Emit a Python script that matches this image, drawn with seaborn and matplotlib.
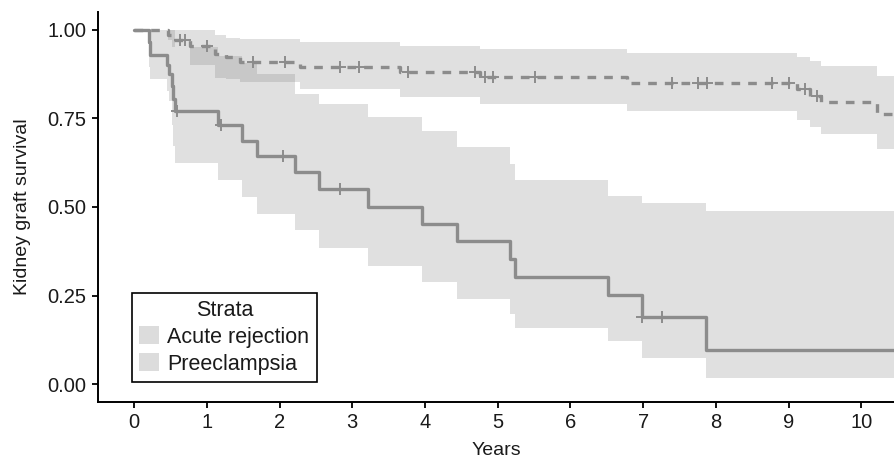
import numpy as np
import pandas as pd
import matplotlib
matplotlib.use("Agg")
import matplotlib.pyplot as plt
from matplotlib.patches import Patch
import seaborn as sns

# ---------------- data ----------------
strata = ["Acute rejection", "Preeclampsia"]

ar_time  = [0.00, 0.20, 0.22, 0.45, 0.48, 0.52, 0.54, 0.56, 1.15, 1.49, 1.69, 2.21, 2.54, 3.22, 3.96, 4.44, 5.17, 5.24, 6.52, 6.98, 7.86]
ar_surv  = [1.000, 0.965, 0.930, 0.900, 0.875, 0.840, 0.805, 0.770, 0.730, 0.687, 0.645, 0.598, 0.551, 0.501, 0.453, 0.403, 0.354, 0.302, 0.253, 0.190, 0.096]
ar_lower = [1.000, 0.894, 0.860, 0.828, 0.800, 0.730, 0.673, 0.623, 0.576, 0.528, 0.481, 0.434, 0.385, 0.335, 0.288, 0.241, 0.199, 0.159, 0.121, 0.074, 0.018]
ar_upper = [1.000, 1.000, 1.000, 1.000, 1.000, 1.000, 1.000, 0.950, 0.925, 0.905, 0.875, 0.820, 0.790, 0.753, 0.713, 0.669, 0.621, 0.575, 0.530, 0.510, 0.490]
ar_censor = [0.59, 1.20, 2.05, 2.83, 6.98, 7.26]

pe_time  = [0.00, 0.47, 0.52, 0.77, 1.11, 1.27, 1.46, 2.28, 3.66, 4.76, 6.78, 9.11, 9.30, 9.44, 10.21]
pe_surv  = [1.000, 0.986, 0.972, 0.955, 0.932, 0.922, 0.908, 0.894, 0.880, 0.866, 0.850, 0.833, 0.814, 0.795, 0.762]
pe_lower = [1.000, 0.970, 0.950, 0.900, 0.865, 0.860, 0.852, 0.834, 0.810, 0.790, 0.770, 0.745, 0.725, 0.706, 0.664]
pe_upper = [1.000, 1.000, 1.000, 1.000, 0.985, 0.978, 0.974, 0.965, 0.955, 0.945, 0.934, 0.922, 0.913, 0.899, 0.870]
pe_censor = [0.63, 0.70, 1.00, 1.64, 2.08, 2.83, 3.09, 3.77, 4.69, 4.83, 4.94, 5.52,
             7.40, 7.76, 7.88, 8.77, 9.00, 9.23, 9.39]

x_ticks = [0, 1, 2, 3, 4, 5, 6, 7, 8, 9, 10]
y_ticks = [0.00, 0.25, 0.50, 0.75, 1.00]
y_tick_labels = ["0.00", "0.25", "0.50", "0.75", "1.00"]

X_MAX = 10.45

# ---------------- style ----------------
sns.set_theme(style="white")
plt.rcParams["font.family"] = ["Liberation Sans", "DejaVu Sans"]
plt.rcParams["axes.linewidth"] = 1.4

LINE_C = "#8c8c8c"
BAND_C = "#808080"
BAND_A = 0.245
TXT_C = "#1a1a1a"

fig = plt.figure(figsize=(8.94, 4.62), dpi=100)
ax = fig.add_axes([97.7 / 894, 60 / 462, (894 - 97.7) / 894, 390 / 462])


def extend(t, v):
    return np.append(t, X_MAX), np.append(v, v[-1])


def step_at(t, v, q):
    idx = np.searchsorted(np.asarray(t), np.asarray(q), side="right") - 1
    return np.asarray(v)[idx]


groups = [
    (strata[0], ar_time, ar_surv, ar_lower, ar_upper, ar_censor, "-"),
    (strata[1], pe_time, pe_surv, pe_lower, pe_upper, pe_censor, (0, (2.6, 2.4))),
]

for name, t, s, lo, up, cens, ls in groups:
    te, lo_e = extend(t, lo)
    _, up_e = extend(t, up)
    ax.fill_between(te, lo_e, up_e, step="post", color=BAND_C, alpha=BAND_A,
                    linewidth=0)

for name, t, s, lo, up, cens, ls in groups:
    te, se = extend(t, s)
    df = pd.DataFrame({"time": te, "surv": se})
    sns.lineplot(data=df, x="time", y="surv", ax=ax, color=LINE_C,
                 drawstyle="steps-post", estimator=None, sort=False,
                 linewidth=2.4, linestyle=ls, legend=False)
    cdf = pd.DataFrame({"time": cens, "surv": step_at(t, s, cens)})
    sns.scatterplot(data=cdf, x="time", y="surv", ax=ax, marker="+",
                    s=70, color=LINE_C, linewidth=1.4, legend=False, zorder=3)

ax.set_xlim(-0.5, X_MAX)
ax.set_ylim(-0.05, 1.05)
ax.set_xticks(x_ticks)
ax.set_xticklabels([str(v) for v in x_ticks])
ax.set_yticks(y_ticks)
ax.set_yticklabels(y_tick_labels)
ax.tick_params(axis="both", which="major", direction="out", length=4,
               width=1.3, color="black", labelsize=14.5, labelcolor=TXT_C,
               bottom=True, left=True, pad=4)
for side in ["top", "right"]:
    ax.spines[side].set_visible(False)
for side in ["left", "bottom"]:
    ax.spines[side].set_color("black")
    ax.spines[side].set_linewidth(1.4)

ax.set_xlabel("Years", fontsize=14, color=TXT_C, labelpad=7)
ax.set_ylabel("Kidney graft survival", fontsize=14, color=TXT_C, labelpad=12)
ax.grid(False)

handles = [Patch(facecolor="#dcdcdc", edgecolor="none", label=n) for n in strata]
leg = ax.legend(handles=handles, title="Strata", loc="lower left",
                bbox_to_anchor=(0.043, 0.051), borderaxespad=0,
                fontsize=15.5, title_fontsize=15.5, frameon=True, fancybox=False,
                handlelength=0.9, handleheight=0.9, handletextpad=0.4,
                borderpad=0.35, labelspacing=0.25)
leg.get_frame().set_edgecolor("black")
leg.get_frame().set_linewidth(1.2)
leg.get_frame().set_alpha(1)
for txt in leg.get_texts():
    txt.set_color(TXT_C)
leg.get_title().set_color(TXT_C)

fig.savefig("out.png", dpi=100)
